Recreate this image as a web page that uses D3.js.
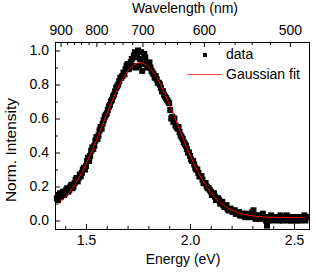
<!DOCTYPE html>
<html>
<head>
<meta charset="utf-8">
<script src="https://d3js.org/d3.v7.min.js"></script>
<style>
  body { margin: 0; background: #fff; }
  text { font-family: Arial, "Liberation Sans", sans-serif; fill: #000; }
</style>
</head>
<body>
<div id="chart"></div>
<script>
// measured data, photon energy (eV) vs normalised PL intensity
var energy = [1.36, 1.37, 1.38, 1.39, 1.40, 1.41, 1.42, 1.43, 1.44, 1.45,
    1.46, 1.47, 1.48, 1.49, 1.50, 1.51, 1.52, 1.53, 1.54, 1.55,
    1.56, 1.57, 1.58, 1.59, 1.60, 1.61, 1.62, 1.63, 1.64, 1.65,
    1.66, 1.67, 1.68, 1.69, 1.70, 1.71, 1.72, 1.73, 1.74, 1.75,
    1.76, 1.77, 1.78, 1.79, 1.80, 1.81, 1.82, 1.83, 1.84, 1.85,
    1.86, 1.87, 1.88, 1.89, 1.90, 1.91, 1.92, 1.93, 1.94, 1.95,
    1.96, 1.97, 1.98, 1.99, 2.00, 2.01, 2.02, 2.03, 2.04, 2.05,
    2.06, 2.07, 2.08, 2.09, 2.10, 2.11, 2.12, 2.13, 2.14, 2.15,
    2.16, 2.17, 2.18, 2.19, 2.20, 2.21, 2.22, 2.23, 2.24, 2.25,
    2.26, 2.27, 2.28, 2.29, 2.30, 2.31, 2.32, 2.33, 2.34, 2.35,
    2.36, 2.37, 2.38, 2.39, 2.40, 2.41, 2.42, 2.43, 2.44, 2.45,
    2.46, 2.47, 2.48, 2.49, 2.50, 2.51, 2.52, 2.53, 2.54, 2.55, 2.56];

var intensity = [0.13, 0.15, 0.14, 0.17, 0.16, 0.19, 0.18, 0.21, 0.20, 0.24,
    0.23, 0.27, 0.28, 0.31, 0.32, 0.37, 0.38, 0.43, 0.44, 0.49,
    0.50, 0.55, 0.57, 0.61, 0.63, 0.67, 0.70, 0.73, 0.76, 0.79,
    0.82, 0.84, 0.87, 0.89, 0.92, 0.90, 0.95, 0.97, 0.90, 1.00,
    0.95, 0.88, 0.98, 0.93, 0.92, 0.90, 0.87, 0.84, 0.83, 0.81,
    0.78, 0.76, 0.73, 0.71, 0.69, 0.60, 0.58, 0.56, 0.54, 0.52,
    0.49, 0.46, 0.44, 0.40, 0.38, 0.35, 0.33, 0.30, 0.28, 0.26,
    0.24, 0.22, 0.20, 0.19, 0.17, 0.16, 0.14, 0.13, 0.12, 0.10,
    0.09, 0.08, 0.07, 0.06, 0.06, 0.05, 0.04, 0.05, 0.03, 0.04,
    0.03, 0.02, 0.03, 0.02, 0.05, 0.02, 0.01, 0.03, 0.01, 0.04,
    0.02, -0.03, 0.00, 0.03, 0.01, 0.02, 0.02, 0.00, 0.02, 0.01,
    0.02, 0.00, 0.01, 0.02, 0.00, 0.01, 0.02, 0.00, 0.01, 0.03, 0.02];

// second scan, points in between (the band is dense in the picture)
var energy2 = [1.365, 1.375, 1.385, 1.395, 1.405, 1.415, 1.425, 1.435, 1.445, 1.455,
    1.465, 1.475, 1.485, 1.495, 1.505, 1.515, 1.525, 1.535, 1.545, 1.555,
    1.565, 1.575, 1.585, 1.595, 1.605, 1.615, 1.625, 1.635, 1.645, 1.655,
    1.665, 1.675, 1.685, 1.695, 1.705, 1.715, 1.725, 1.735, 1.745, 1.755,
    1.765, 1.775, 1.785, 1.795, 1.805, 1.815, 1.825, 1.835, 1.845, 1.855,
    1.865, 1.875, 1.885, 1.895, 1.905, 1.915, 1.925, 1.935, 1.945, 1.955,
    1.965, 1.975, 1.985, 1.995, 2.005, 2.015, 2.025, 2.035, 2.045, 2.055,
    2.065, 2.075, 2.085, 2.095, 2.105, 2.115, 2.125, 2.135, 2.145, 2.155,
    2.165, 2.175, 2.185, 2.195, 2.205, 2.215, 2.225, 2.235, 2.245, 2.255,
    2.265, 2.275, 2.285, 2.295, 2.305, 2.315, 2.325, 2.335, 2.345, 2.355,
    2.365, 2.375, 2.385, 2.395, 2.405, 2.415, 2.425, 2.435, 2.445, 2.455,
    2.465, 2.475, 2.485, 2.495, 2.505, 2.515, 2.525, 2.535, 2.545, 2.555];

var intensity2 = [0.12, 0.16, 0.16, 0.15, 0.18, 0.17, 0.20, 0.19, 0.22, 0.25,
    0.25, 0.26, 0.30, 0.30, 0.35, 0.35, 0.41, 0.42, 0.47, 0.48,
    0.53, 0.54, 0.59, 0.62, 0.65, 0.68, 0.71, 0.74, 0.78, 0.80,
    0.84, 0.85, 0.86, 0.91, 0.89, 0.93, 0.91, 0.99, 0.96, 0.91,
    0.99, 0.92, 0.96, 0.90, 0.93, 0.88, 0.86, 0.85, 0.81, 0.80,
    0.76, 0.74, 0.72, 0.70, 0.65, 0.61, 0.60, 0.55, 0.55, 0.50,
    0.48, 0.45, 0.42, 0.40, 0.36, 0.35, 0.31, 0.30, 0.26, 0.26,
    0.22, 0.22, 0.19, 0.18, 0.15, 0.16, 0.12, 0.13, 0.10, 0.11,
    0.08, 0.09, 0.06, 0.07, 0.05, 0.06, 0.04, 0.05, 0.03, 0.04,
    0.02, 0.04, 0.02, 0.03, 0.06, 0.01, 0.03, 0.02, 0.02, 0.01,
    0.00, 0.02, 0.01, 0.02, 0.00, 0.01, 0.01, 0.03, 0.00, 0.01,
    0.03, 0.01, 0.00, 0.02, 0.01, 0.00, 0.02, 0.01, 0.02, 0.00];

// gaussian fit curve
var fitEnergy = [1.365, 1.40, 1.44, 1.48, 1.52, 1.56, 1.60, 1.64, 1.68, 1.72,
    1.76, 1.80, 1.84, 1.88, 1.92, 1.96, 2.00, 2.04, 2.08, 2.12,
    2.16, 2.20, 2.24, 2.28, 2.32, 2.36, 2.40, 2.44, 2.48, 2.52, 2.555];
var fitIntensity = [0.096, 0.136, 0.199, 0.282, 0.385, 0.502, 0.626, 0.743, 0.841, 0.905,
    0.928, 0.905, 0.841, 0.743, 0.626, 0.502, 0.385, 0.282, 0.199, 0.136,
    0.091, 0.061, 0.042, 0.031, 0.024, 0.021, 0.019, 0.018, 0.018, 0.018, 0.018];

// tick labels
var energyTicks = [1.5, 2.0, 2.5];
var energyMinor = [1.4, 1.6, 1.7, 1.8, 1.9, 2.1, 2.2, 2.3, 2.4, 2.5];
var intensityTicks = [0.0, 0.2, 0.4, 0.6, 0.8, 1.0];
var intensityMinor = [0.1, 0.3, 0.5, 0.7, 0.9];
var wavelengthTicks = [900, 800, 700, 600, 500];
var wavelengthMinor = [880, 860, 840, 820, 780, 760, 740, 720, 680, 660, 640, 620, 580, 560, 540, 520];

var width = 316, height = 272;
var padL = 55, padR = 309, padT = 42, padB = 229; // plot box edges in px

var svg = d3.select("#chart").append("svg")
    .attr("width", width)
    .attr("height", height);

var x = d3.scaleLinear().domain([1.351, 2.572]).range([padL, padR]);
var y = d3.scaleLinear().domain([-0.05, 1.05]).range([padB, padT]);

// eV <-> nm
function toEnergy(nm) { return 1240 / nm; }

// AXES (ticks point inward, like Origin)
svg.append("g")
    .attr("transform", "translate(0," + padB + ")")
    .call(d3.axisBottom(x).tickValues(energyMinor).tickSize(-3).tickFormat(""));
svg.append("g")
    .attr("transform", "translate(0," + padB + ")")
    .call(d3.axisBottom(x).tickValues(energyTicks).tickSize(-5).tickPadding(6).tickFormat(d3.format(".1f")));

svg.append("g")
    .attr("transform", "translate(" + padL + ",0)")
    .call(d3.axisLeft(y).tickValues(intensityMinor).tickSize(-3).tickFormat(""));
svg.append("g")
    .attr("transform", "translate(" + padL + ",0)")
    .call(d3.axisLeft(y).tickValues(intensityTicks).tickSize(-5).tickPadding(6).tickFormat(d3.format(".1f")));

svg.append("g")
    .attr("transform", "translate(0," + padT + ")")
    .call(d3.axisTop(x).tickValues(wavelengthMinor.map(toEnergy)).tickSize(-3).tickFormat(""));
svg.append("g")
    .attr("transform", "translate(0," + padT + ")")
    .call(d3.axisTop(x).tickValues(wavelengthTicks.map(toEnergy)).tickSize(-5).tickPadding(7)
        .tickFormat(function(d) { return Math.round(1240 / d); }));

svg.selectAll(".domain").remove();
svg.selectAll(".tick line").attr("stroke", "#000");
svg.selectAll(".tick text").style("font-size", "14px").style("font-family", "Arial, 'Liberation Sans', sans-serif");

// frame
svg.append("rect")
    .attr("x", padL + 0.5)
    .attr("y", padT + 0.5)
    .attr("width", padR - padL)
    .attr("height", padB - padT)
    .attr("fill", "none")
    .attr("stroke", "#000")
    .attr("stroke-width", 1);

// DATA SQUARES
var pts = energy.map(function(e, i) { return [e, intensity[i]]; })
    .concat(energy2.map(function(e, i) { return [e, intensity2[i]]; }));
svg.append("g")
    .selectAll("rect")
    .data(pts)
    .enter()
    .append("rect")
        .attr("x", function(d) { return x(d[0]) - 3; })
        .attr("y", function(d) { return y(d[1]) - 3; })
        .attr("width", 6)
        .attr("height", 6)
        .attr("fill", "#000");

// fit line
var line = d3.line()
    .x(function(d) { return x(d[0]); })
    .y(function(d) { return y(d[1]); })
    .curve(d3.curveCatmullRom);

svg.append("path")
    .datum(fitEnergy.map(function(e, i) { return [e, fitIntensity[i]]; }))
    .attr("d", line)
    .attr("fill", "none")
    .attr("stroke", "#ff0000")
    .attr("stroke-width", 1);

// legend
svg.append("rect").attr("x", 203).attr("y", 53).attr("width", 4).attr("height", 4).attr("fill", "#000");
svg.append("text").attr("x", 226).attr("y", 59).style("font-size", "14px").text("data");
svg.append("line").attr("x1", 187).attr("x2", 222).attr("y1", 74.5).attr("y2", 74.5)
    .attr("stroke", "#ff4d4d").attr("stroke-width", 1);
svg.append("text").attr("x", 226).attr("y", 79).style("font-size", "14px").text("Gaussian fit");

// axis titles
svg.append("text")
    .attr("x", 185).attr("y", 13)
    .attr("text-anchor", "middle")
    .style("font-size", "14px")
    .text("Wavelength (nm)");

svg.append("text")
    .attr("x", 183).attr("y", 264)
    .attr("text-anchor", "middle")
    .style("font-size", "14px")
    .text("Energy (eV)");

svg.append("text")
    .attr("transform", "translate(16,150) rotate(-90)")
    .attr("text-anchor", "middle")
    .style("font-size", "15.5px")
    .text("Norm. Intensity");
</script>
</body>
</html>
